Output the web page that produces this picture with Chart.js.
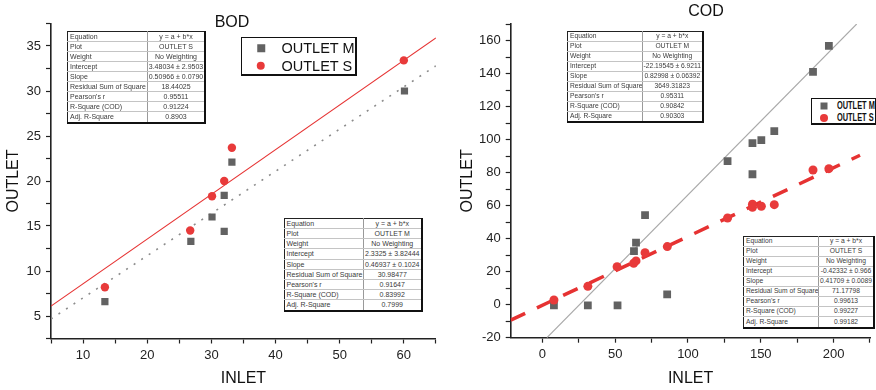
<!DOCTYPE html>
<html><head><meta charset="utf-8">
<script src="https://cdn.jsdelivr.net/npm/chart.js@4.4.1/dist/chart.umd.min.js"></script>
<style>
html,body{margin:0;padding:0;background:#fff;width:876px;height:390px;overflow:hidden;font-family:"Liberation Sans",Arial,sans-serif}
#wrap{position:relative;width:876px;height:390px}
canvas{position:absolute;top:0}
.ttl{position:absolute;transform:translate(-50%,-50%);font-size:16px;line-height:1;color:#111;white-space:nowrap}
table.st{position:absolute;border-collapse:collapse;table-layout:fixed;background:#fff;color:#3a3a3a;
  border-top:1px solid #222;border-left:1px solid #222;border-right:2px solid #111;border-bottom:2px solid #111}
table.st td{padding:0 0 0 2px;line-height:1;white-space:nowrap;overflow:hidden;border-bottom:1px solid #c4c4c4}
table.st td.v{text-align:center;padding:0;border-left:1px solid #9a9a9a}
.lg{position:absolute;background:#fff;border:1px solid #111;border-right-width:2px;border-bottom-width:2px;box-sizing:border-box}
.lg .it{position:absolute;white-space:nowrap;line-height:1;color:#111;transform-origin:0 50%}
.mk{position:absolute;transform:translate(-50%,-50%)}
</style>
</head><body><div id="wrap">
<canvas id="bod" width="441" height="390" style="left:0"></canvas>
<canvas id="cod" width="436" height="390" style="left:440px"></canvas>
</div>
<script>
// ---------------- DATA ----------------
// BOD
const bodInletM  = [13.4, 26.8, 30.1, 32.0, 32.0, 33.2, 60.1];
const bodOutletM = [6.6, 13.3, 16.0, 18.4, 14.4, 22.1, 30.0];
const bodInletS  = [13.4, 26.7, 30.1, 32.0, 33.2, 60.0];
const bodOutletS = [8.2, 14.5, 18.3, 20.0, 23.7, 33.4];
const bodFitSX = [5, 65];
const bodFitSY = [6.1, 35.9];
const bodFitMX = [5, 65];
const bodFitMY = [4.67, 32.8];
const bodXTicks = [5, 10, 15, 20, 25, 30, 35, 40, 45, 50, 55, 60, 65];
const bodXLabels = [10, 20, 30, 40, 50, 60];
const bodYTicks = [2.5, 5, 7.5, 10, 12.5, 15, 17.5, 20, 22.5, 25, 27.5, 30, 32.5, 35, 37.5];
const bodYLabels = [5, 10, 15, 20, 25, 30, 35];
// COD
const codInletM  = [7.9, 31.2, 51.6, 62.9, 64.3, 70.5, 85.7, 127.2, 144.3, 144.3, 150.4, 159.3, 185.9, 196.8];
const codOutletM = [-0.4, -0.4, -0.4, 32.5, 37.6, 54.2, 6.3, 86.9, 97.8, 79.0, 99.6, 105.1, 141.0, 156.8];
const codInletS  = [7.9, 31.2, 51.3, 62.7, 64.3, 70.5, 85.8, 127.2, 144.3, 144.3, 150.4, 159.3, 185.9, 196.8];
const codOutletS = [2.8, 11.1, 23.0, 25.1, 26.5, 31.5, 35.2, 52.5, 60.8, 59.0, 59.6, 60.6, 81.6, 82.4];
const codFitMX = [3.1, 215.9];
const codFitMY = [-20, 170];
const codFitSX = [-21.8, 218.2];
const codFitSY = [-9.4, 90.5];
const codXTicks = [0, 25, 50, 75, 100, 125, 150, 175, 200, 225];
const codXLabels = [0, 50, 100, 150, 200];
const codYTicks = [-20, -10, 0, 10, 20, 30, 40, 50, 60, 70, 80, 90, 100, 110, 120, 130, 140, 150, 160, 170];
const codYLabels = [-20, 0, 20, 40, 60, 80, 100, 120, 140, 160];
// Fit statistic tables
const statLabels = ['Equation', 'Plot', 'Weight', 'Intercept', 'Slope', 'Residual Sum of Square', "Pearson's r", 'R-Square (COD)', 'Adj. R-Square'];
const bodStatS = ['y = a + b*x', 'OUTLET S', 'No Weighting', '3.48034 ± 2.9503', '0.50966 ± 0.0790', '18.44025', '0.95511', '0.91224', '0.8903'];
const bodStatM = ['y = a + b*x', 'OUTLET M', 'No Weighting', '2.3325 ± 3.82444', '0.46937 ± 0.1024', '30.98477', '0.91647', '0.83992', '0.7999'];
const codStatM = ['y = a + b*x', 'OUTLET M', 'No Weighting', '-22.19545 ± 6.9211', '0.82998 ± 0.06392', '3649.31823', '0.95311', '0.90842', '0.90303'];
const codStatS = ['y = a + b*x', 'OUTLET S', 'No Weighting', '-0.42332 ± 0.966', '0.41709 ± 0.0089', '71.17798', '0.99613', '0.99227', '0.99182'];
const seriesNames = ['OUTLET M', 'OUTLET S'];
const chartTitles = ['BOD', 'COD'];
const axisTitles = ['INLET', 'OUTLET'];

// ---------------- HELPERS ----------------
const FAM = '"Liberation Sans", Arial, sans-serif';
const GREY = '#626262', RED = '#e83a3a';
const pts = (xs, ys) => xs.map((x, i) => ({x, y: ys[i]}));

function axis(opts) {
  return {
    type: 'linear', min: opts.min, max: opts.max, position: opts.position,
    afterBuildTicks: s => { s.ticks = opts.ticks.map(v => ({value: v})); },
    afterFit: s => { if (opts.position === 'left') s.width = opts.size; else s.height = opts.size; },
    ticks: {
      autoSkip: false, maxRotation: 0, padding: opts.position === 'left' ? 5 : 4,
      color: '#222', font: {family: FAM, size: 13},
      callback: v => opts.labels.some(l => Math.abs(l - v) < 1e-9) ? String(v) : ''
    },
    grid: {drawOnChartArea: false, tickLength: 5, tickColor: '#222', tickWidth: 1.2},
    border: {display: true, color: '#222', width: 1.6},
    title: {display: true, text: opts.title, color: '#111', font: {family: FAM, size: 16},
      padding: opts.position === 'left' ? {top: opts.tpad, bottom: 0} : {top: 0, bottom: opts.tpad}}
  };
}

function makeChart(id, cfg) {
  return new Chart(document.getElementById(id), {
    type: 'scatter',
    data: {datasets: [
      {label: 'fitA', data: cfg.fitA, showLine: true, pointRadius: 0, borderColor: cfg.fitAColor, borderWidth: cfg.fitAWidth, borderDash: cfg.fitADash, order: 3},
      {label: 'fitB', data: cfg.fitB, showLine: true, pointRadius: 0, borderColor: cfg.fitBColor, borderWidth: cfg.fitBWidth, borderDash: cfg.fitBDash, order: 4},
      {label: seriesNames[0], data: cfg.m, pointStyle: 'rect', pointRadius: cfg.rRect, backgroundColor: GREY, borderWidth: 0, order: 2},
      {label: seriesNames[1], data: cfg.s, pointStyle: 'circle', pointRadius: cfg.rCirc, backgroundColor: RED, borderWidth: 0, order: 1}
    ]},
    options: {
      responsive: false, animation: false, events: [],
      layout: {padding: {top: cfg.top, right: cfg.right, bottom: 0, left: 0}},
      plugins: {legend: {display: false}, tooltip: {enabled: false}, title: {display: false}},
      scales: {x: cfg.x, y: cfg.y}
    }
  });
}

// BOD chart
makeChart('bod', {
  top: 23.5, right: 0, rRect: 5.1, rCirc: 4.2,
  m: pts(bodInletM, bodOutletM), s: pts(bodInletS, bodOutletS),
  fitA: pts(bodFitSX, bodFitSY), fitAColor: '#e63232', fitAWidth: 1.1, fitADash: [],
  fitB: pts(bodFitMX, bodFitMY), fitBColor: '#8c8c8c', fitBWidth: 1.6, fitBDash: [2, 7],
  x: axis({min: 5, max: 65, position: 'bottom', ticks: bodXTicks, labels: bodXLabels, size: 51.5, title: axisTitles[0], tpad: 1.4}),
  y: axis({min: 2.5, max: 37.5, position: 'left', ticks: bodYTicks, labels: bodYLabels, size: 51, title: axisTitles[1], tpad: 4.1})
});

// COD chart
makeChart('cod', {
  top: 24, right: 2.7, rRect: 5.5, rCirc: 4.5,
  m: pts(codInletM, codOutletM), s: pts(codInletS, codOutletS),
  fitA: pts(codFitSX, codFitSY), fitAColor: '#e63232', fitAWidth: 3.5, fitADash: [16, 13],
  fitB: pts(codFitMX, codFitMY), fitBColor: '#a8a8a8', fitBWidth: 1.1, fitBDash: [],
  x: axis({min: -21.8, max: 225.4, position: 'bottom', ticks: codXTicks, labels: codXLabels, size: 52.3, title: axisTitles[0], tpad: 1.4}),
  y: axis({min: -20, max: 170, position: 'left', ticks: codYTicks, labels: codYLabels, size: 70.7, title: axisTitles[1], tpad: 18})
});

// ---------------- OVERLAYS (titles, stats tables, legends) ----------------
const wrap = document.getElementById('wrap');
function title(text, cx, cy) {
  const d = document.createElement('div'); d.className = 'ttl'; d.textContent = text;
  d.style.left = cx + 'px'; d.style.top = cy + 'px'; wrap.appendChild(d);
}
title(chartTitles[0], 232, 22);
title(chartTitles[1], 706, 11);

function table(vals, left, top, w, h, c1, fs) {
  const t = document.createElement('table'); t.className = 'st';
  t.style.left = left + 'px'; t.style.top = top + 'px'; t.style.width = w + 'px'; t.style.height = h + 'px';
  t.style.fontSize = fs + 'px';
  const cg = document.createElement('colgroup');
  cg.innerHTML = '<col style="width:' + c1 + 'px"><col>';
  t.appendChild(cg);
  statLabels.forEach((lab, i) => {
    const tr = document.createElement('tr');
    const a = document.createElement('td'); a.textContent = lab;
    const b = document.createElement('td'); b.className = 'v'; b.textContent = vals[i];
    if (i === statLabels.length - 1) { a.style.borderBottom = 'none'; b.style.borderBottom = 'none'; }
    tr.appendChild(a); tr.appendChild(b); t.appendChild(tr);
  });
  wrap.appendChild(t);
}
table(bodStatS, 67, 30.5, 139, 93, 80, 7);
table(bodStatM, 283.5, 218, 139, 93.5, 79.5, 7);
table(codStatM, 567, 30.5, 136.5, 92.5, 75, 6.7);
table(codStatS, 743, 236, 132, 92.5, 75, 6.7);

function legend(left, top, w, h, items) {
  const b = document.createElement('div'); b.className = 'lg';
  b.style.left = left + 'px'; b.style.top = top + 'px'; b.style.width = w + 'px'; b.style.height = h + 'px';
  wrap.appendChild(b);
  items.forEach(it => {
    const m = document.createElement('div'); m.className = 'mk';
    m.style.left = (it.mx - left) + 'px'; m.style.top = (it.y - top) + 'px';
    m.style.width = it.ms + 'px'; m.style.height = it.ms + 'px';
    m.style.background = it.circle ? RED : GREY;
    if (it.circle) m.style.borderRadius = '50%';
    b.appendChild(m);
    const t = document.createElement('div'); t.className = 'it'; t.textContent = it.text;
    t.style.left = (it.tx - left) + 'px'; t.style.top = (it.y - top) + 'px';
    t.style.transform = 'translateY(-50%) scaleX(' + (it.sx || 1) + ')'; t.style.fontSize = it.fs + 'px';
    if (it.bold) t.style.fontWeight = 'bold';
    b.appendChild(t);
  });
}
legend(241, 36.5, 116, 39, [
  {text: seriesNames[0], mx: 260, tx: 280.5, y: 47, ms: 7.5, fs: 14.5},
  {text: seriesNames[1], mx: 259.5, tx: 280.5, y: 64.8, ms: 8.5, fs: 14.5, circle: true}
]);
legend(810.5, 98.3, 66, 27, [
  {text: seriesNames[0], mx: 822.7, tx: 836, y: 105.3, ms: 7, fs: 10, sx: 0.74, bold: true},
  {text: seriesNames[1], mx: 822.7, tx: 836, y: 117.5, ms: 8, fs: 10, sx: 0.74, bold: true, circle: true}
]);
</script>
</body></html>
